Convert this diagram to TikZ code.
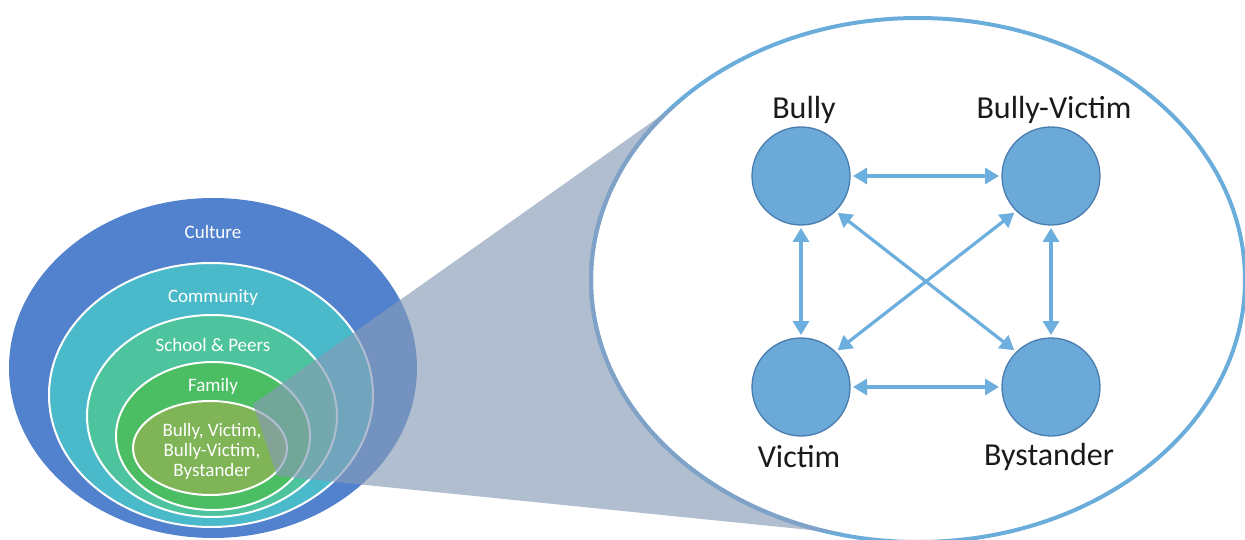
\documentclass[tikz,border=0pt]{standalone}
\usepackage{fontspec}
\setmainfont{Carlito}
\usetikzlibrary{shapes.geometric,arrows.meta}
\definecolor{culturec}{HTML}{5282CE}
\definecolor{communityc}{HTML}{4ABACB}
\definecolor{schoolc}{HTML}{4DC39E}
\definecolor{familyc}{HTML}{4BBD62}
\definecolor{innerc}{HTML}{7FB457}
\definecolor{conec}{HTML}{869BB7}
\definecolor{ringc}{HTML}{6AADDB}
\definecolor{ringgray}{HTML}{7FA2C6}
\definecolor{circfill}{HTML}{6AA9D8}
\definecolor{circdraw}{HTML}{4A7DAF}
\definecolor{arrowc}{HTML}{6CAEDE}
\definecolor{labelc}{HTML}{1A1A1A}
\tikzset{
  layer/.style={ellipse, inner sep=0pt, outer sep=0pt},
  ringline/.style={draw=white, line width=2pt},
  lefttext/.style={text=white, font=\fontsize{19}{20}\selectfont, align=center, inner sep=0pt},
  role/.style={circle, fill=circfill, draw=circdraw, line width=1.3pt, minimum size=98pt, inner sep=0pt, outer sep=3pt},
  rolelabel/.style={text=labelc, font=\fontsize{32}{34}\selectfont, inner sep=0pt},
  link/.style={draw=arrowc, line width=3.2pt, {Triangle[length=14pt,width=16pt]}-{Triangle[length=14pt,width=16pt]}},
}
\begin{document}
\begin{tikzpicture}[x=1pt,y=-1pt]
\useasboundingbox (0,0) rectangle (1245,540);
% nested ellipses
\node[layer, fill=culturec, minimum width=408pt, minimum height=340pt] (culture) at (213,368) {};
\node[layer, fill=communityc, ringline, minimum width=324pt, minimum height=264pt] (community) at (211,395) {};
\node[layer, fill=schoolc, ringline, minimum width=250pt, minimum height=202pt] (school) at (212,416) {};
\node[layer, fill=familyc, ringline, minimum width=194pt, minimum height=148pt] (family) at (213,436) {};
\node[layer, fill=innerc, ringline, minimum width=154pt, minimum height=94pt] (inner) at (210,448) {};
\node[lefttext] (tculture) at (213,232) {Culture};
\node[lefttext] (tcommunity) at (213,297) {Community};
\node[lefttext] (tschool) at (213,345) {School \& Peers};
\node[lefttext] (tfamily) at (213,386) {Family};
\node[lefttext] (tinner) at (212,451) {Bully, Victim,\\Bully-Victim,\\Bystander};
% magnifying cone
\coordinate (c1) at (253,404);
\coordinate (c2) at (700,88);
\coordinate (c3) at (918,280);
\coordinate (c4) at (850,534);
\coordinate (c5) at (277,476);
\fill[conec, fill opacity=0.65] (c1) -- (c2) -- (c3) -- (c4) -- (c5) -- cycle;
% magnified ellipse
\node[layer, fill=white, draw=ringc, line width=4pt, minimum width=654pt, minimum height=524pt] (zoom) at (918,280) {};
\begin{scope}
  \clip (c1) -- (c2) -- (c3) -- (c4) -- (c5) -- cycle;
  \draw[ringgray, line width=4pt] (zoom.center) ellipse [x radius=327pt, y radius=262pt];
\end{scope}
% roles
\node[role] (bully) at (801,176) {};
\node[role] (bv) at (1051,176) {};
\node[role] (victim) at (801,387) {};
\node[role] (bystander) at (1051,387) {};
\node[rolelabel] (lbully) at (804,110) {Bully};
\node[rolelabel] (lbv) at (1054,110) {Bully-Victim};
\node[rolelabel] (lvictim) at (799,457) {Victim};
\node[rolelabel] (lbystander) at (1049,457) {Bystander};
% links
\draw[link] (bully.east) -- (bv.west);
\draw[link] (victim.east) -- (bystander.west);
\draw[link] (bully.south) -- (victim.north);
\draw[link] (bv.south) -- (bystander.north);
\draw[link] (bully.south east) -- (bystander.north west);
\draw[link] (bv.south west) -- (victim.north east);
\end{tikzpicture}
\end{document}
